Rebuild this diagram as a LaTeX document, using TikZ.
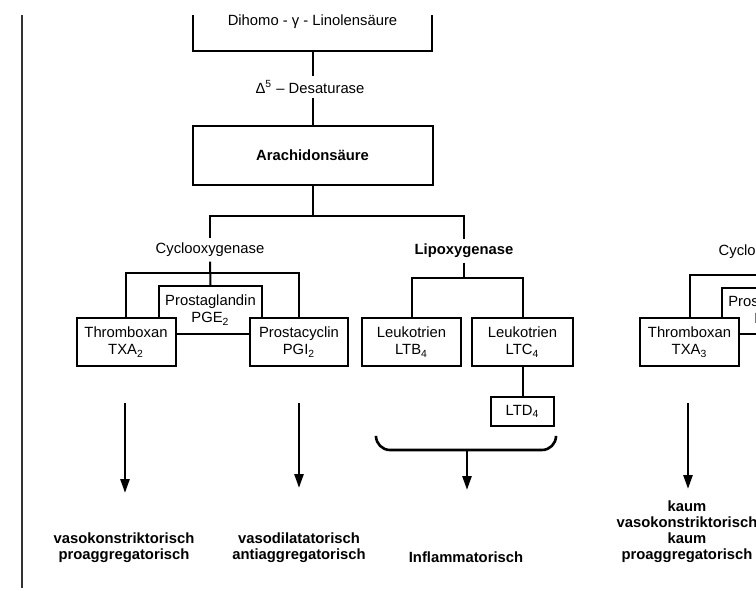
\documentclass[tikz,border=0pt]{standalone}
\usepackage{fontspec}
\setmainfont{Liberation Sans}
\usetikzlibrary{arrows.meta}
\begin{document}
\begin{tikzpicture}[x=0.5pt,y=-0.5pt,
  every node/.style={font=\fontsize{7.4}{8.5}\selectfont, inner sep=2.2pt},
  box/.style={draw, line width=1pt, fill=white, align=center, inner sep=0pt},
  lbl/.style={align=center},
  res/.style={align=center, font=\fontsize{7.4}{8}\selectfont\bfseries},
  ln/.style={line width=1pt},
  arr/.style={line width=1.3pt, -{Triangle[length=7pt,width=4.5pt]}}]
\clip (0,0) rectangle (756,590);
\fill[white] (0,0) rectangle (756,590);
% page frame line
\draw[line width=1.2pt, black!80] (22,15) -- (22,588);

% top
\node (dihomo) at (312.5,22) [minimum width=119.5pt, minimum height=29pt, inner sep=0pt] {Dihomo - γ - Linolensäure};
\draw[ln] (dihomo.south west |- 0,15) -- (dihomo.south west) -- (dihomo.south east) -- (dihomo.south east |- 0,15);
\node[lbl] (desat) at (310,87) {Δ\textsuperscript{5} – Desaturase};
\node[box, font=\fontsize{7.4}{8.5}\selectfont\bfseries, minimum width=120pt, minimum height=29.5pt] (arach) at (312.5,155.5) {Arachidonsäure};
\draw[ln] (dihomo.south) -- (dihomo.south |- desat.north);
\draw[ln] (arach.north |- desat.south) -- (arach.north);

% split
\coordinate (split) at (312.5,216);
\node[lbl] (cox) at (210,250) {Cyclooxygenase};
\node[lbl, font=\fontsize{7.4}{8.5}\selectfont\bfseries] (lox) at (464,251) {Lipoxygenase};
\draw[ln] (arach.south) -- (split);
\draw[ln] (cox.north) |- (split) -| (lox.north);

% cyclooxygenase branch
\node[box, minimum width=51.5pt, minimum height=24pt] (pge) at (210.5,310) {Prostaglandin\\PGE\textsubscript{2}};
\node[box, minimum width=49.5pt, minimum height=24pt] (txa) at (126,342) {Thromboxan\\TXA\textsubscript{2}};
\node[box, minimum width=49pt, minimum height=24pt] (pgi) at (299,342) {Prostacyclin\\PGI\textsubscript{2}};
\coordinate (cbar) at (210,273);
\draw[ln] (cox.south) -- (pge.north);
\draw[ln] (txa.north) |- (cbar) -| (pgi.north);

% lipoxygenase branch
\node[box, minimum width=49.5pt, minimum height=24pt] (ltb) at (411.5,342) {Leukotrien\\LTB\textsubscript{4}};
\node[box, minimum width=50.5pt, minimum height=24pt] (ltc) at (522.5,342) {Leukotrien\\LTC\textsubscript{4}};
\node[box, minimum width=31.5pt, minimum height=14.5pt] (ltd) at (522.5,411.5) {LTD\textsubscript{4}};
\coordinate (lbar) at (464,278);
\draw[ln] (lox.south) -- (lbar);
\draw[ln] (ltb.north) |- (lbar) -| (ltc.north);
\draw[ln] (ltc.south) -- (ltd.north);

% brace
\coordinate (brl) at (376,437);
\coordinate (brr) at (556,437);
\coordinate (brm) at (467,450);
\draw[line width=1.3pt, rounded corners=7pt] (brl) -- (brl |- brm) -- (brr |- brm) -- (brr);

% results
\node[res] (r1) at (124,548) {vasokonstriktorisch\\proaggregatorisch};
\node[res] (r2) at (299,548) {vasodilatatorisch\\antiaggregatorisch};
\node[res] (r3) at (466,557) {Inflammatorisch};
\node[res] (r4) at (687,532) {kaum\\vasokonstriktorisch\\kaum\\proaggregatorisch};

\coordinate (a1s) at (125,403); \coordinate (a1e) at (125,493);
\coordinate (a2s) at (299,403); \coordinate (a2e) at (299,488);
\coordinate (a3e) at (467,490);
\coordinate (a4s) at (688,403); \coordinate (a4e) at (688,489);
\draw[arr] (a1s) -- (a1e);
\draw[arr] (a2s) -- (a2e);
\draw[arr] (brm) -- (a3e);
\draw[arr] (a4s) -- (a4e);

% right (cut-off) group
\node[lbl] (cox2) at (773,252) {Cyclooxygenase};
\node[box, minimum width=51.5pt, minimum height=23pt] (pge2) at (773.5,311) {Prostaglandin\\PGE\textsubscript{3}};
\node[box, minimum width=49.5pt, minimum height=24pt] (txa3) at (689.5,342) {Thromboxan\\TXA\textsubscript{3}};
\coordinate (cbar2) at (760,275);
\draw[ln] (txa3.north) |- (cbar2);
\end{tikzpicture}
\end{document}
